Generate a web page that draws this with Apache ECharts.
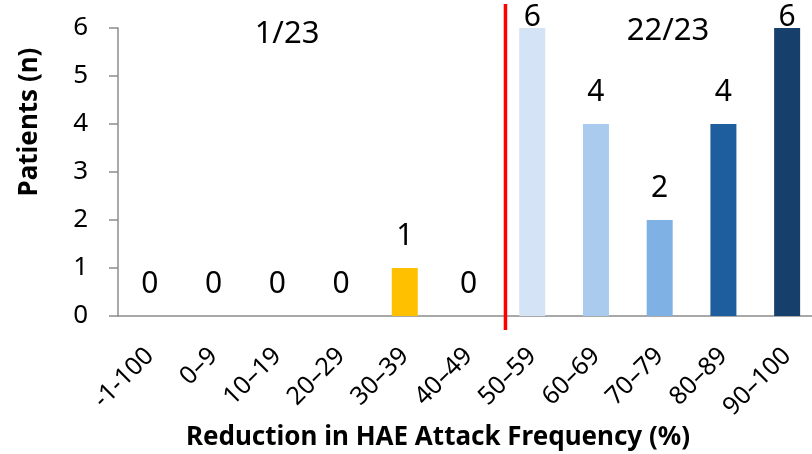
<!DOCTYPE html>
<html>
<head>
<meta charset="utf-8">
<script src="https://cdn.jsdelivr.net/npm/echarts@6/dist/echarts.min.js"></script>
<style>
  html, body { margin: 0; padding: 0; background: #ffffff; overflow: hidden; width: 812px; height: 454px; }
  /* plot runs slightly past the right edge of the page, so the canvas is wider than the view */
  #chart { width: 830px; height: 454px; }
</style>
</head>
<body>
<div id="chart"></div>
<script>
// Reduction bands (%) and patient counts per band
const categories = ['-1-100', '0–9', '10–19', '20–29', '30–39', '40–49', '50–59', '60–69', '70–79', '80–89', '90–100'];
const patients = [0, 0, 0, 0, 1, 0, 6, 4, 2, 4, 6];
const barColors = ['#FFC000', '#FFC000', '#FFC000', '#FFC000', '#FFC000', '#FFC000',
                   '#D4E3F5', '#ABCBEE', '#7FB1E4', '#1F5E9E', '#163F6B'];
const yTicks = [0, 1, 2, 3, 4, 5, 6];
const groupLabels = ['1/23', '22/23'];

const FONT = 'Noto Sans';
const yMax = yTicks[yTicks.length - 1];

const chart = echarts.init(document.getElementById('chart'), null, { renderer: 'canvas' });

const seriesData = patients.map((v, i) => ({
  value: v,
  itemStyle: { color: barColors[i] },
  // labels on full-height bars sit tucked against the top of the plot
  label: v === yMax ? { offset: [0, 21] } : undefined
}));

chart.setOption({
  animation: false,
  backgroundColor: '#ffffff',
  grid: { left: 118, top: 28, width: 701, height: 288, containLabel: false },
  xAxis: {
    type: 'category',
    data: categories,
    axisLine: { show: true, lineStyle: { color: '#8c8c8c', width: 1.5 } },
    axisTick: { show: false },
    axisLabel: {
      rotate: 45,
      interval: 0,
      margin: 36,
      color: '#000',
      fontFamily: FONT,
      fontSize: 25
    }
  },
  yAxis: {
    type: 'value',
    min: yTicks[0],
    max: yMax,
    interval: 1,
    splitLine: { show: false },
    axisLine: { show: true, lineStyle: { color: '#8c8c8c', width: 1.5 } },
    axisTick: { show: true, inside: false, length: 9, lineStyle: { color: '#8c8c8c', width: 1.5 } },
    axisLabel: {
      margin: 30,
      color: '#000',
      fontFamily: FONT,
      fontSize: 26
    }
  },
  series: [{
    type: 'bar',
    data: seriesData,
    barWidth: 26,
    label: {
      show: true,
      position: 'top',
      distance: 17,
      color: '#000',
      fontFamily: FONT,
      fontSize: 30
    }
  }]
});

// Divider, group totals and axis titles placed relative to the axes
function drawOverlay() {
  const p5 = chart.convertToPixel({ xAxisIndex: 0 }, categories[5]);
  const p6 = chart.convertToPixel({ xAxisIndex: 0 }, categories[6]);
  const yTop = chart.convertToPixel({ yAxisIndex: 0 }, yMax);
  const yZero = chart.convertToPixel({ yAxisIndex: 0 }, 0);
  const step = p6 - p5;
  const divX = (p5 + p6) / 2 + step * 0.08;

  chart.setOption({
    graphic: [
      {
        type: 'line',
        shape: { x1: divX, y1: yTop - 24, x2: divX, y2: yZero + 14 },
        style: { stroke: '#FF0000', lineWidth: 3.5 },
        z: 10
      },
      {
        type: 'text',
        x: 287, y: 34,
        style: { text: groupLabels[0], fontFamily: FONT, fontSize: 31, fill: '#000',
                 textAlign: 'center', textVerticalAlign: 'middle' }
      },
      {
        type: 'text',
        x: 668, y: 31,
        style: { text: groupLabels[1], fontFamily: FONT, fontSize: 31, fill: '#000',
                 textAlign: 'center', textVerticalAlign: 'middle' }
      },
      {
        type: 'text',
        x: 30, y: 122,
        rotation: Math.PI / 2,
        style: { text: 'Patients (n)', fontFamily: FONT, fontWeight: 'bold', fontSize: 26,
                 fill: '#000', textAlign: 'center', textVerticalAlign: 'middle' }
      },
      {
        type: 'text',
        x: 438, y: 438,
        style: { text: 'Reduction in HAE Attack Frequency (%)', fontFamily: FONT, fontWeight: 'bold',
                 fontSize: 26, fill: '#000', textAlign: 'center', textVerticalAlign: 'middle' }
      }
    ]
  });
}
drawOverlay();
</script>
</body>
</html>
